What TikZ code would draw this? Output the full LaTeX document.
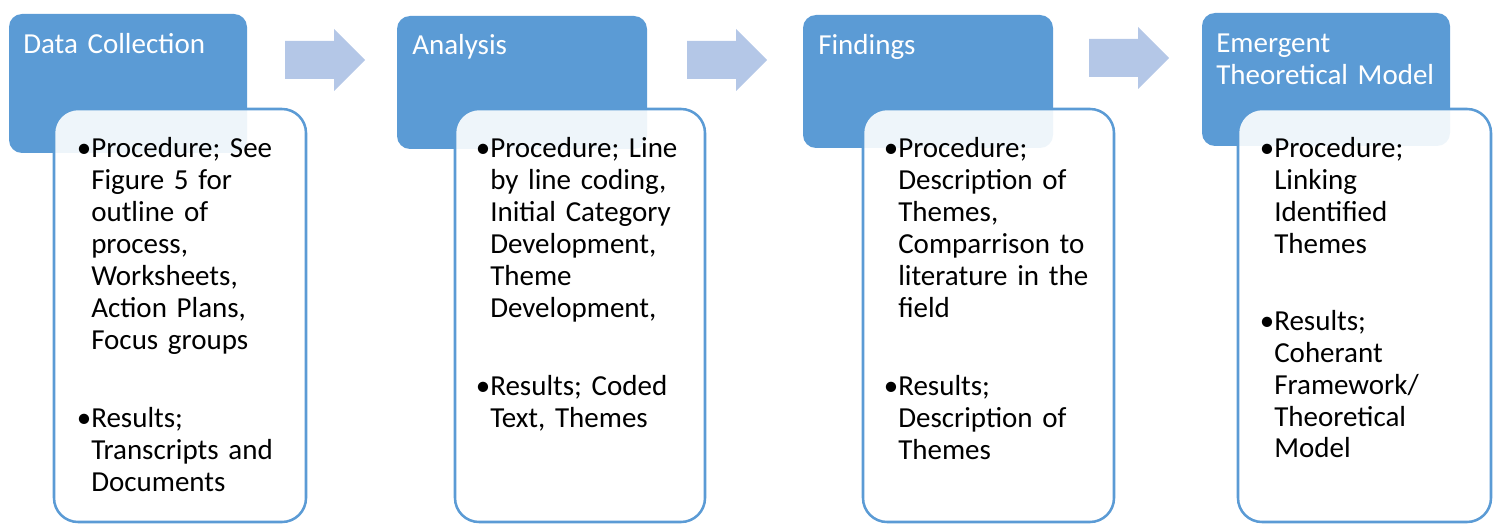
\documentclass[tikz,border=0pt]{standalone}
\usepackage{fontspec}
\setmainfont{Carlito}
\definecolor{stageblue}{HTML}{5B9BD5}
\definecolor{arrowblue}{HTML}{B4C7E7}
\newcommand\stagefont{\fontsize{21.75pt}{24pt}\selectfont}
\tikzset{
  stagehead/.style 2 args={fill=stageblue, draw=none, rounded corners=9.75pt,
    anchor=north west, inner sep=0pt, outer sep=0pt,
    minimum width=#1*0.75pt, minimum height=#2*0.75pt},
  stagebody/.style 2 args={fill=white, fill opacity=0.9, draw=stageblue,
    draw opacity=1, line width=1.9pt, rounded corners=18pt,
    anchor=north west, inner sep=0pt, outer sep=0pt,
    minimum width=#1*0.75pt, minimum height=#2*0.75pt},
  headtext/.style={text=white, anchor=base west, inner sep=0pt,
    font=\stagefont, text width=200pt, align=left},
  bodytext/.style={text=black, anchor=base west, inner sep=0pt,
    font=\stagefont, text width=180pt, align=left},
  pics/flowarrow/.style={code={
    \fill[arrowblue] (0,-19) -- (49,-19) -- (49,-31) -- (80,0)
      -- (49,31) -- (49,19) -- (0,19) -- cycle;}}
}
\newcommand\bul{\llap{•}}
\begin{document}
\begin{tikzpicture}[x=0.75pt, y=-0.75pt]
\useasboundingbox (0,0) rectangle (1497,524);

% stage headers
\node[stagehead={238}{139}] (head1) at (9,14) {};
\node[stagehead={250}{133}] (head2) at (397,16) {};
\node[stagehead={250}{133}] (head3) at (803,15) {};
\node[stagehead={248}{133}] (head4) at (1202,13) {};

% stage detail panels
\node[stagebody={252}{413}] (body1) at (54,109) {};
\node[stagebody={250}{413}] (body2) at (455,109) {};
\node[stagebody={251}{413}] (body3) at (863,109) {};
\node[stagebody={253}{413}] (body4) at (1238,109) {};

% arrows between stages
\pic (arrowA) at (285,60) {flowarrow};
\pic (arrowB) at (687,60) {flowarrow};
\pic (arrowC) at (1089,58) {flowarrow};

% header titles
\node[headtext] (title1) at (23,54) {Data Collection};
\node[headtext] (title2) at (412,55) {Analysis};
\node[headtext] (title3) at (818,55) {Findings};
\node[headtext] (title4) at (1216,53) {Emergent\\Theoretical Model};

% stage 1 text
\node[bodytext] (proc1) at (91,158) {\bul Procedure; See\\Figure 5 for\\outline of\\process,\\Worksheets,\\Action Plans,\\Focus groups};
\node[bodytext] (res1) at (91,427) {\bul Results;\\Transcripts and\\Documents};

% stage 2 text
\node[bodytext] (proc2) at (490,158) {\bul Procedure; Line\\by line coding,\\Initial Category\\Development,\\Theme\\Development,};
\node[bodytext] (res2) at (490,395) {\bul Results; Coded\\Text, Themes};

% stage 3 text
\node[bodytext] (proc3) at (898,158) {\bul Procedure;\\Description of\\Themes,\\Comparrison to\\literature in the\\field};
\node[bodytext] (res3) at (898,395) {\bul Results;\\Description of\\Themes};

% stage 4 text
\node[bodytext] (proc4) at (1274,158) {\bul Procedure;\\Linking\\Identified\\Themes};
\node[bodytext] (res4) at (1274,330) {\bul Results;\\Coherant\\Framework/\\Theoretical\\Model};
\end{tikzpicture}
\end{document}
